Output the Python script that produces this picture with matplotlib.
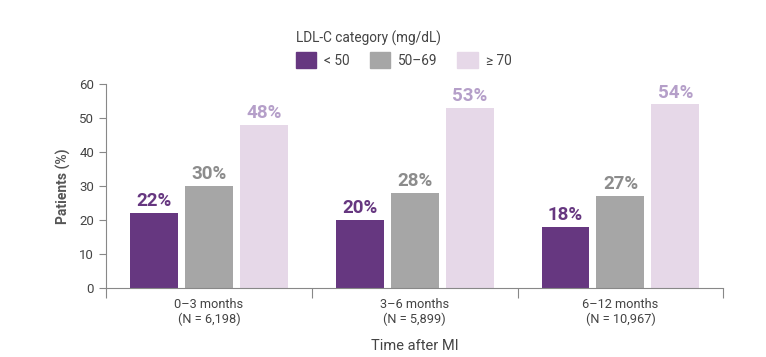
import numpy as np
import matplotlib.pyplot as plt
from matplotlib.patches import Patch

plt.rcParams['font.family'] = ['Roboto', 'DejaVu Sans']

groups = ['0\u20133 months\n(N = 6,198)', '3\u20136 months\n(N = 5,899)', '6\u201312 months\n(N = 10,967)']
categories = ['< 50', '50\u201369', '\u2265 70']
values = [
    [22, 20, 18],   # < 50
    [30, 28, 27],   # 50-69
    [48, 53, 54],   # >= 70
]
bar_colors = ['#663780', '#a6a6a6', '#e6d8e8']
label_colors = ['#663780', '#8c8c8c', '#b59fc9']

fig = plt.figure(figsize=(7.66, 3.57), dpi=100)
ax = fig.add_axes([0.1384, 0.1933, 0.8059, 0.5714])

x = np.arange(len(groups)) + 0.5
width = 0.233
step = 0.267
for i, (vals, col) in enumerate(zip(values, bar_colors)):
    pos = x + (i - 1) * step
    ax.bar(pos, vals, width=width, color=col, label=categories[i])
    for p, v in zip(pos, vals):
        ax.text(p, v + 0.8, f'{v}%', ha='center', va='bottom', fontsize=13.5,
                fontweight='bold', color=label_colors[i])

ax.set_xlim(0, 3)
ax.set_ylim(0, 60)
ax.set_yticks(range(0, 61, 10))
ax.set_xticks([0, 1, 2, 3])
ax.set_xticklabels([])
ax.set_xticks(x, minor=True)
ax.set_xticklabels(groups, minor=True, fontsize=9.2, color='#444444')
ax.tick_params(axis='x', which='minor', length=0, pad=7)
ax.tick_params(axis='x', which='major', length=7, color='#888888')
ax.tick_params(axis='y', length=5, color='#888888', labelsize=9.5, labelcolor='#444444')

for s in ['top', 'right']:
    ax.spines[s].set_visible(False)
for s in ['left', 'bottom']:
    ax.spines[s].set_color('#888888')

ax.set_ylabel('Patients (%)', fontsize=10, fontweight='semibold', color='#555555', labelpad=6)
ax.set_xlabel('Time after MI', fontsize=10.5, color='#444444', labelpad=9)

handles = [Patch(color=c) for c in bar_colors]
leg = fig.legend(handles, categories, title='LDL-C category (mg/dL)', ncol=3,
                 loc='upper left', bbox_to_anchor=(0.386, 0.915), frameon=False,
                 fontsize=9.8, title_fontsize=9.8, handlelength=1.5, handleheight=1.35,
                 columnspacing=1.45, handletextpad=0.6, borderaxespad=0, borderpad=0)
leg._legend_box.align = 'left'
for t in leg.get_texts():
    t.set_color('#444444')
leg.get_title().set_color('#444444')

fig.savefig('out.png', dpi=100)
